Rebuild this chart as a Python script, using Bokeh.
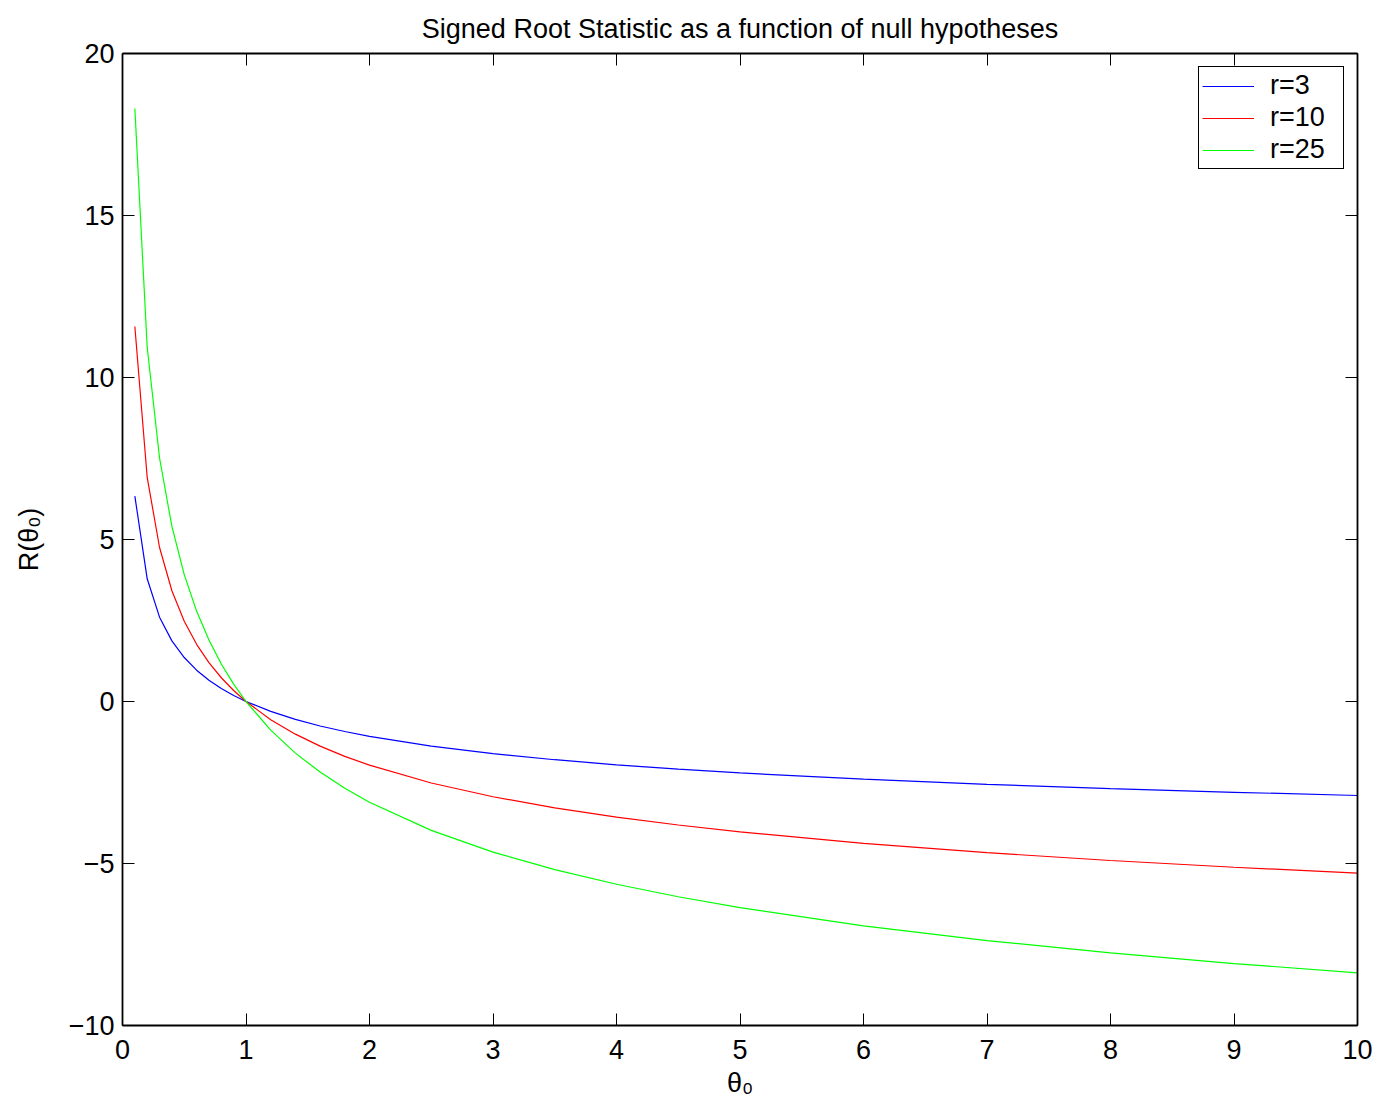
from bokeh.plotting import figure
from bokeh.models import Range1d, LinearAxis, Legend, LegendItem, FixedTicker
from bokeh.embed import file_html
from bokeh.resources import INLINE

# ---- data ----
theta0 = [0.1, 0.2, 0.3, 0.4, 0.5, 0.6, 0.7, 0.8, 0.9, 1.0,
          1.2, 1.4, 1.6, 1.8, 2.0, 2.5, 3.0, 3.5, 4.0, 4.5,
          5.0, 6.0, 7.0, 8.0, 9.0, 10.0]
r3 = [6.339, 3.787, 2.603, 1.871, 1.357, 0.967, 0.657, 0.401, 0.186, 0.0,
      -0.306, -0.552, -0.755, -0.927, -1.077, -1.378, -1.610, -1.797, -1.954, -2.088,
      -2.204, -2.398, -2.556, -2.688, -2.802, -2.901]
r10 = [11.574, 6.915, 4.753, 3.417, 2.477, 1.765, 1.199, 0.733, 0.339, 0.0,
       -0.560, -1.008, -1.378, -1.693, -1.965, -2.515, -2.939, -3.282, -3.567, -3.811,
       -4.023, -4.378, -4.666, -4.908, -5.115, -5.296]
r25 = [18.300, 10.933, 7.515, 5.402, 3.917, 2.791, 1.896, 1.159, 0.536, 0.0,
       -0.885, -1.593, -2.179, -2.677, -3.108, -3.977, -4.647, -5.189, -5.640, -6.026,
       -6.362, -6.923, -7.378, -7.760, -8.088, -8.374]
series_labels = ["r=3", "r=10", "r=25"]
series_colors = ["#0000ff", "#ff0000", "#00ff00"]
x_ticks = [0, 1, 2, 3, 4, 5, 6, 7, 8, 9, 10]
y_ticks = [-10, -5, 0, 5, 10, 15, 20]
y_tick_labels = {-10: "\u221210", -5: "\u22125", 0: "0", 5: "5", 10: "10", 15: "15", 20: "20"}
title_text = "Signed Root Statistic as a function of null hypotheses"
x_label = "\u03b8\u2080"
y_label = "R(\u03b8\u2080)"

FONT = "Liberation Sans"
FS = "27px"

p = figure(width=1380, height=1100, output_backend="svg", toolbar_location=None,
           x_range=Range1d(0, 10), y_range=Range1d(-10, 20),
           min_border_left=122, min_border_right=23, min_border_top=53, min_border_bottom=74,
           x_axis_location=None, y_axis_location=None)
p.xgrid.visible = False
p.ygrid.visible = False
p.outline_line_color = None
p.background_fill_color = "white"
p.border_fill_color = "white"


def style_axis(ax, ticks, show_labels, overrides=None):
    ax.ticker = FixedTicker(ticks=ticks)
    ax.axis_line_color = "black"
    ax.axis_line_width = 1.8
    ax.major_tick_line_color = "black"
    ax.major_tick_line_width = 1
    ax.major_tick_in = 12
    ax.major_tick_out = 0
    ax.minor_tick_line_color = None
    if show_labels:
        ax.major_label_text_font = FONT
        ax.major_label_text_font_size = FS
        ax.major_label_text_color = "black"
        ax.axis_label_text_font = FONT
        ax.axis_label_text_font_size = FS
        ax.axis_label_text_font_style = "normal"
        ax.axis_label_text_color = "black"
        if overrides:
            ax.major_label_overrides = overrides
    else:
        ax.major_label_text_color = None
        ax.major_label_text_font_size = "0px"
        ax.major_label_standoff = 0


left = LinearAxis(axis_label=y_label)
style_axis(left, y_ticks, True, y_tick_labels)
left.major_label_standoff = 8
left.axis_label_standoff = 22
p.add_layout(left, "left")

bottom = LinearAxis(axis_label=x_label)
style_axis(bottom, x_ticks, True)
bottom.major_label_standoff = 14
bottom.axis_label_standoff = 6
p.add_layout(bottom, "below")

right = LinearAxis()
style_axis(right, y_ticks, False)
p.add_layout(right, "right")

top = LinearAxis()
style_axis(top, x_ticks, False)
p.add_layout(top, "above")

p.title.text = title_text
p.title.align = "center"
p.title.text_font = FONT
p.title.text_font_size = FS
p.title.text_font_style = "normal"
p.title.text_color = "black"
p.title.standoff = 20

renderers = []
for ys, c in zip([r3, r10, r25], series_colors):
    renderers.append(p.line(theta0, ys, line_color=c, line_width=1.2))

legend = Legend(items=[LegendItem(label=l, renderers=[r]) for l, r in zip(series_labels, renderers)],
                location="top_right")
legend.margin = 13
legend.padding = 3
legend.spacing = 1
legend.glyph_width = 52
legend.label_standoff = 16
legend.label_width = 70
legend.label_text_font = FONT
legend.label_text_font_size = FS
legend.label_text_color = "black"
legend.border_line_color = "black"
legend.border_line_alpha = 1.0
legend.border_line_width = 1.5
legend.background_fill_color = "white"
legend.background_fill_alpha = 1.0
p.add_layout(legend, "center")

open("out.html", "w").write(file_html(p, INLINE))
